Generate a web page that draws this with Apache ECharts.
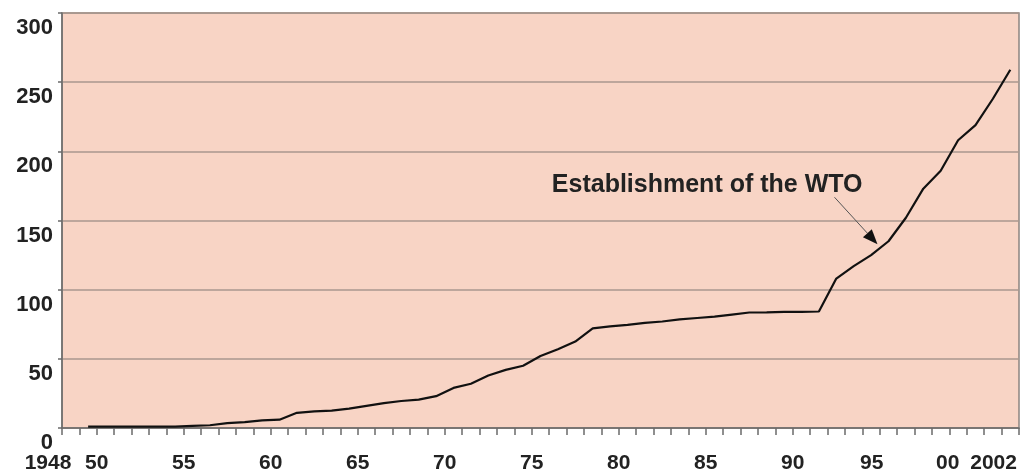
<!DOCTYPE html>
<html>
<head>
<meta charset="utf-8">
<script src="https://cdn.jsdelivr.net/npm/echarts@6/dist/echarts.min.js"></script>
<style>
html,body{margin:0;padding:0;background:#ffffff;}
#chart{width:1023px;height:474px;}
</style>
</head>
<body>
<div id="chart"></div>
<script>
// ---- data ----
const years = [1949,1950,1951,1952,1953,1954,1955,1956,1957,1958,1959,1960,1961,1962,1963,1964,1965,1966,1967,1968,1969,1970,1971,1972,1973,1974,1975,1976,1977,1978,1979,1980,1981,1982,1983,1984,1985,1986,1987,1988,1989,1990,1991,1992,1993,1994,1995,1996,1997,1998,1999,2000,2001,2002];
const values = [1,1,1,1,1,1,1.5,2,3.5,4.2,5.5,6,11,12,12.5,14,16,18,19.5,20.5,23,29,32,38,42,45,52,57,62.5,72,73.5,74.5,76,77,78.5,79.5,80.5,82,83.5,83.6,84,84,84.2,108,117,125,135,152,173,186,208,219,238,259];
const labelYears = [1948,1950,1955,1960,1965,1970,1975,1980,1985,1990,1995,2000,2002];
const labelTexts = ['1948','50','55','60','65','70','75','80','85','90','95','00','2002'];
const yTicks = [0,50,100,150,200,250,300];
const annotationText = 'Establishment of the WTO';
const annotationYear = 1995;

// ---- layout/style ----
const FONT = "'Liberation Sans', Arial, sans-serif";
const labelShift = {1948: 14, 1995: 8, 2000: 19, 2002: 8};
const richBase = {fontSize: 21, fontWeight: 'bold', fontFamily: FONT, color: '#222'};
const rich = {};
labelYears.forEach(y => {
  const s = labelShift[y] || 0;
  rich['k' + y] = Object.assign({}, richBase, {padding: [0, 2 * s, 0, 0]});
});

const chart = echarts.init(document.getElementById('chart'), null, {renderer: 'canvas', width: 1023, height: 474});

const option = {
  animation: false,
  backgroundColor: '#ffffff',
  grid: {
    left: 62, right: 4, top: 13, bottom: 46,
    show: true, backgroundColor: '#F8D4C5', borderColor: '#8c8480', borderWidth: 1.5
  },
  xAxis: {
    type: 'value', min: 1948, max: 2003, interval: 1,
    axisLine: {show: true, onZero: false, lineStyle: {color: '#6b6b6b', width: 1.5}},
    axisTick: {show: true, length: 7, lineStyle: {color: '#6b6b6b', width: 1.5}},
    splitLine: {show: false},
    axisLabel: {
      margin: 25,
      showMinLabel: true, showMaxLabel: true,
      fontSize: 21, fontWeight: 'bold', fontFamily: FONT, color: '#222',
      rich: rich,
      formatter: function (v) {
        const i = labelYears.indexOf(Math.round(v));
        if (i < 0 || Math.abs(v - labelYears[i]) > 1e-6) return '';
        return '{k' + labelYears[i] + '|' + labelTexts[i] + '}';
      }
    }
  },
  yAxis: {
    type: 'value', min: yTicks[0], max: yTicks[yTicks.length - 1], interval: 50,
    axisLine: {show: true, lineStyle: {color: '#6b6b6b', width: 1.5}},
    axisTick: {show: true, length: 4, lineStyle: {color: '#6b6b6b', width: 1.5}},
    splitLine: {show: true, lineStyle: {color: '#aa978e', width: 1.5}},
    axisLabel: {
      margin: 9, fontSize: 22, fontWeight: 'bold', fontFamily: FONT, color: '#222',
      verticalAlign: 'top', padding: [4, 0, 0, 0]
    }
  },
  series: [{
    type: 'line',
    data: years.map((y, i) => [y + 0.5, values[i]]),  // plotted at the middle of each year
    showSymbol: false,
    lineStyle: {color: '#111', width: 2.2},
    z: 3
  }]
};
chart.setOption(option);

// ---- annotation anchored to the WTO year ----
const ai = years.indexOf(annotationYear);
const p = chart.convertToPixel({gridIndex: 0}, [annotationYear + 0.5, values[ai]]);
const tip = [p[0] - 11, p[1] + 3];
const start = [p[0] - 54, p[1] - 44];
const dx = tip[0] - start[0], dy = tip[1] - start[1];
const len = Math.sqrt(dx * dx + dy * dy);
const ux = dx / len, uy = dy / len;
const ah = 15, aw = 6;
const base = [tip[0] - ux * ah, tip[1] - uy * ah];
chart.setOption({
  graphic: [
    {type: 'line', shape: {x1: start[0], y1: start[1], x2: base[0], y2: base[1]},
     style: {stroke: '#555', lineWidth: 1}, z: 10},
    {type: 'polygon', shape: {points: [tip, [base[0] - uy * aw, base[1] + ux * aw], [base[0] + uy * aw, base[1] - ux * aw]]},
     style: {fill: '#111'}, z: 10},
    {type: 'text', x: start[0] + 28, y: start[1] - 12,
     style: {text: annotationText, align: 'right', verticalAlign: 'middle',
             fontSize: 25, fontWeight: 'bold', fontFamily: FONT, fill: '#222'}, z: 10}
  ]
});
</script>
</body>
</html>
